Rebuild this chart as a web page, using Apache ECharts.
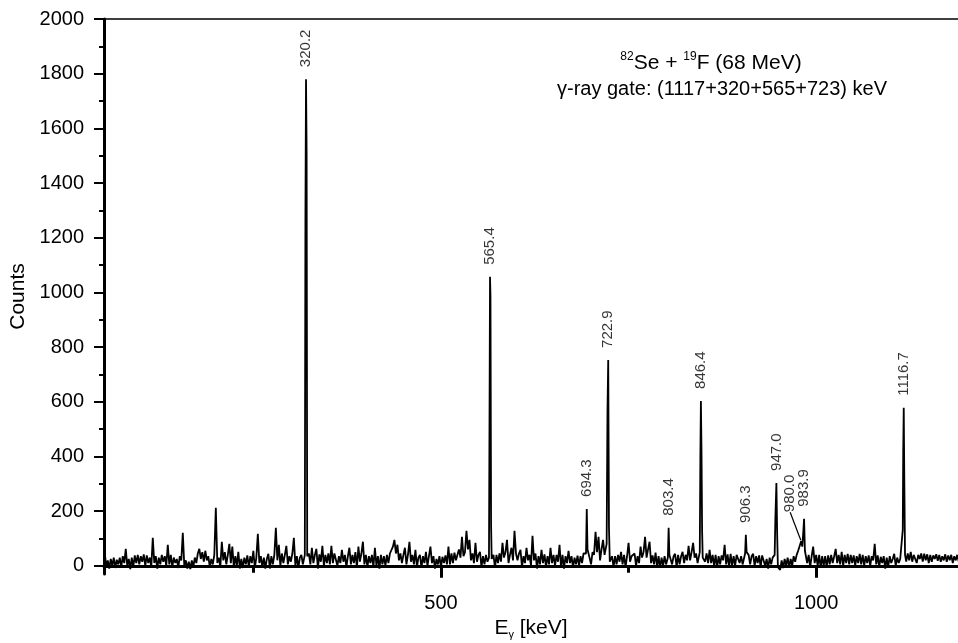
<!DOCTYPE html>
<html>
<head>
<meta charset="utf-8">
<script src="https://cdn.jsdelivr.net/npm/echarts@6/dist/echarts.min.js"></script>
<style>
  html, body { margin: 0; padding: 0; background: #fff; }
  #chart { width: 958px; height: 643px; }
</style>
</head>
<body>
<div id="chart"></div>
<script>
// spectrum background, 2 keV channels starting at 52 keV
const bgStart = 52
const bgStep = 2
const bgCounts = [
  48, -5, 20, -10, 25, 0, 30, -8, 22, 5,
  30, -5, 35, 10, 62, 0, 25, -12, 30, -5,
  38, 10, 40, 5, 35, 15, 42, 0, 38, 10,
  30, -5, 102, 10, 35, -10, 30, 5, 40, 15,
  35, 0, 77, 5, 40, -5, 30, 10, 25, -8,
  35, 20, 121, 0, 20, -10, 15, -12, 20, -5,
  30, 10, 45, 62, 25, 50, 15, 55, 20, 35,
  -5, 25, 5, 40, 212, 10, 30, -5, 88, 20,
  50, 5, 40, 80, 10, 70, -5, 35, 0, 51,
  -10, 25, -8, 30, 5, 38, -5, 35, 10, 55,
  -8, 30, 117, 10, 35, -5, 30, -10, 25, 44,
  -10, 35, 5, 40, 139, 20, 77, 0, 45, 10,
  40, 73, 5, 35, 15, 45, 102, 0, 35, -8,
  30, 40, 5, 30, 30, 20, 45, 5, 66, 10,
  40, 62, -10, 42, 15, 73, 0, 40, 10, 45,
  5, 73, 10, 45, 40, 0, 35, 10, 58, 15,
  40, -5, 35, 66, 5, 40, 10, 50, -8, 70,
  15, 45, 88, 5, 40, -5, 35, 10, 40, -5,
  66, 0, 35, -10, 40, 5, 35, 0, 40, 10,
  45, 50, 70, 95, 45, 77, 20, 45, 10, 40,
  66, 5, 40, 88, 15, 40, 5, 58, -5, 30,
  40, -8, 35, 10, 51, 0, 35, 70, 10, 35,
  -10, 25, 5, 35, -5, 33, 10, 38, 5, 70,
  5, 45, 10, 48, 20, 40, 60, 30, 106, 35,
  50, 128, 60, 95, 20, 45, 10, 84, 15, 40,
  51, -5, 35, 5, 40, 15, 40, 40, 5, 40,
  -8, 40, 10, 45, 15, 84, 30, 50, 95, 10,
  40, 66, 20, 128, 45, 20, 45, 58, -5, 35,
  10, 66, 20, 40, 0, 110, 20, 45, -10, 35,
  5, 58, 10, 42, -5, 35, 5, 66, 10, 40,
  0, 40, 15, 77, -5, 40, -10, 35, 10, 55,
  10, 35, -8, 30, 5, 37, 0, 35, 10, 45,
  20, 40, 40, 30, 5, 50, 40, 124, 50, 106,
  20, 60, 95, 40, 60, 20, 20, 10, 35, -5,
  35, 5, 40, 15, 51, 5, 40, -5, 35, 84,
  15, 35, 40, 45, 0, 35, 10, 70, 30, 50,
  106, 30, 60, 88, 10, 38, 5, 48, -5, 35,
  -8, 30, 0, 35, 5, 30, 30, 40, 5, 35,
  44, -5, 40, 5, 35, 51, 10, 40, 20, 73,
  20, 50, 84, 30, 45, 10, 70, 30, 30, 60,
  15, 45, 10, 58, 10, 40, 0, 40, -8, 35,
  5, 38, 20, 77, 5, 42, -5, 44, 0, 35,
  0, 40, 40, 10, 35, 5, 45, 40, 30, 40,
  5, 35, 44, 0, 35, 10, 38, -5, 38, 40,
  0, 25, -10, 30, 5, 30, 30, 30, 30, 10,
  -15, 20, -8, 25, 0, 30, -5, 25, 0, 35,
  15, 40, 55, 40, 40, 40, 40, 40, 10, 40,
  -5, 35, 70, 10, 40, 0, 40, -8, 35, 0,
  35, -5, 38, 5, 40, 10, 35, 62, 10, 40,
  5, 51, 0, 40, 10, 44, 5, 40, 10, 38,
  0, 35, 10, 44, 5, 40, 0, 35, 10, 38,
  0, 35, 20, 80, 5, 38, -5, 33, 10, 35,
  -10, 30, -5, 35, 10, 25, 44, 0, 30, 10,
  25, 20, 20, 20, 15, 45, 20, 51, 15, 40,
  44, 10, 40, 25, 45, 15, 44, 20, 42, 10,
  40, 15, 38, 25, 42, 18, 40, 15, 35, 20,
  42, 15, 38, 20, 40, 10, 35, 20, 40, 15
]

// peak channels [keV, counts]
const peakPoints = [
  [318.6, 40], [319.4, 1265], [320.2, 1780], [321.0, 1510], [321.8, 35],
  [564.0, 30], [564.8, 600], [565.4, 1057], [566.0, 985], [566.8, 150], [567.6, 25],
  [693.3, 45], [694.3, 208], [695.3, 60],
  [720.8, 80], [721.9, 560], [722.9, 753], [723.9, 140], [725.0, 15],
  [802.4, 30], [803.4, 139], [804.4, 40],
  [844.9, 50], [845.7, 400], [846.4, 603], [847.2, 420], [848.0, 130], [848.8, 30],
  [905.3, 45], [906.3, 113], [907.3, 50],
  [944.7, 40], [945.6, 168], [947.0, 303], [948.0, 120], [949.0, -5],
  [978.5, 55], [980.0, 90], [981.5, 70], [983.0, 130], [983.9, 172], [985.0, 55],
  [1114.6, 30], [1115.4, 132], [1116.0, 413], [1116.7, 578], [1117.5, 300], [1118.4, 40]
]

const peakLabels = [320.2, 565.4, 694.3, 722.9, 803.4, 846.4, 906.3, 947.0, 980.0, 983.9, 1116.7]

const xMajorTicks = [500, 1000]
const xMinorTicks = [250, 750]
const yMajorTicks = [0, 200, 400, 600, 800, 1000, 1200, 1400, 1600, 1800, 2000]
const yMinorTicks = [100, 300, 500, 700, 900, 1100, 1300, 1500, 1700, 1900]

const font = 'Liberation Sans, Arial, Helvetica, sans-serif'
const xMin = 51, xMax = 1189, yMin = -30, yMax = 2000

// merge background channels with the peak channels
let spectrum = []
bgCounts.forEach((c, i) => {
  const e = bgStart + i * bgStep
  const nearPeak = peakPoints.some(p => Math.abs(p[0] - e) < 1.5)
  if (!nearPeak) spectrum.push([e, c])
})
spectrum = spectrum.concat(peakPoints).sort((a, b) => a[0] - b[0])

const labelData = peakLabels.map(e => {
  const top = peakPoints.find(p => p[0] === e)
  const item = { value: [e, top[1]] }
  if (e === 980.0) item.labelLine = { show: true }
  return item
})

const chart = echarts.init(document.getElementById('chart'))

const option = {
  animation: false,
  backgroundColor: '#fff',
  grid: { left: 104, right: 0, top: 19, bottom: 69, outerBoundsMode: 'none', containLabel: false },
  xAxis: [
    {
      type: 'value', min: xMin, max: xMax, position: 'bottom',
      axisLine: { lineStyle: { color: '#000', width: 3 } },
      axisTick: { customValues: xMajorTicks, length: 12, lineStyle: { color: '#000', width: 3 } },
      axisLabel: { customValues: xMajorTicks, margin: 19, fontSize: 20, color: '#000', fontFamily: font, formatter: v => String(v) },
      splitLine: { show: false },
      name: '{e|E}{g|γ}{e| [keV]}',
      nameLocation: 'middle',
      nameGap: 39,
      nameTextStyle: {
        color: '#000', fontFamily: font,
        rich: {
          e: { fontSize: 21, fontFamily: font, color: '#000', lineHeight: 24 },
          g: { fontSize: 11, fontFamily: font, color: '#000', verticalAlign: 'bottom', lineHeight: 24 }
        }
      }
    },
    {
      type: 'value', min: xMin, max: xMax, position: 'bottom',
      axisLine: { show: false },
      axisTick: { customValues: xMinorTicks, length: 7, lineStyle: { color: '#000', width: 3 } },
      axisLabel: { show: false },
      splitLine: { show: false }
    },
    {
      type: 'value', min: xMin, max: xMax, position: 'top',
      axisLine: { lineStyle: { color: '#000', width: 1.5 } },
      axisTick: { show: false },
      axisLabel: { show: false },
      splitLine: { show: false }
    }
  ],
  yAxis: [
    {
      type: 'value', min: yMin, max: yMax, position: 'left',
      axisLine: { lineStyle: { color: '#000', width: 3 } },
      axisTick: { customValues: yMajorTicks, length: 10, lineStyle: { color: '#000', width: 2 } },
      axisLabel: { customValues: yMajorTicks, margin: 20, fontSize: 20, color: '#000', fontFamily: font, formatter: v => String(v) },
      splitLine: { show: false },
      name: 'Counts',
      nameLocation: 'middle',
      nameGap: 71,
      nameTextStyle: { fontSize: 21, color: '#000', fontFamily: font }
    },
    {
      type: 'value', min: yMin, max: yMax, position: 'left',
      axisLine: { show: false },
      axisTick: { customValues: yMinorTicks, length: 5, lineStyle: { color: '#000', width: 2 } },
      axisLabel: { show: false },
      splitLine: { show: false }
    }
  ],
  graphic: [
    {
      type: 'text', x: 711, y: 63,
      style: {
        text: '{s|82}{n|Se + }{s|19}{n|F (68 MeV)}',
        align: 'center', verticalAlign: 'middle',
        rich: {
          n: { fontSize: 21, fontFamily: font, fill: '#000', lineHeight: 24 },
          s: { fontSize: 12, fontFamily: font, fill: '#000', verticalAlign: 'top', lineHeight: 24 }
        }
      }
    },
    {
      type: 'text', x: 722, y: 89,
      style: {
        text: 'γ-ray gate: (1117+320+565+723) keV',
        align: 'center', verticalAlign: 'middle',
        fontSize: 20, fontFamily: font, fill: '#000'
      }
    }
  ],
  series: [
    {
      type: 'line',
      xAxisIndex: 0, yAxisIndex: 0,
      data: spectrum,
      symbol: 'none',
      showSymbol: false,
      lineStyle: { color: '#000', width: 1.8 },
      clip: true
    },
    {
      type: 'scatter',
      xAxisIndex: 0, yAxisIndex: 0,
      data: labelData,
      symbolSize: 2,
      itemStyle: { color: 'rgba(0,0,0,0)' },
      label: {
        show: true,
        position: 'top',
        distance: 11,
        rotate: 90,
        align: 'left',
        verticalAlign: 'middle',
        fontSize: 15,
        color: '#000',
        fontFamily: font,
        formatter: p => p.value[0].toFixed(1)
      },
      labelLine: { show: false, lineStyle: { color: '#000', width: 1.2 } },
      // label is rotated, so dx/dy act in its own frame
      labelLayout: params => params.dataIndex === 8 ? { dx: 17, dy: -11 } : {}
    }
  ]
}

chart.setOption(option)
</script>
</body>
</html>
